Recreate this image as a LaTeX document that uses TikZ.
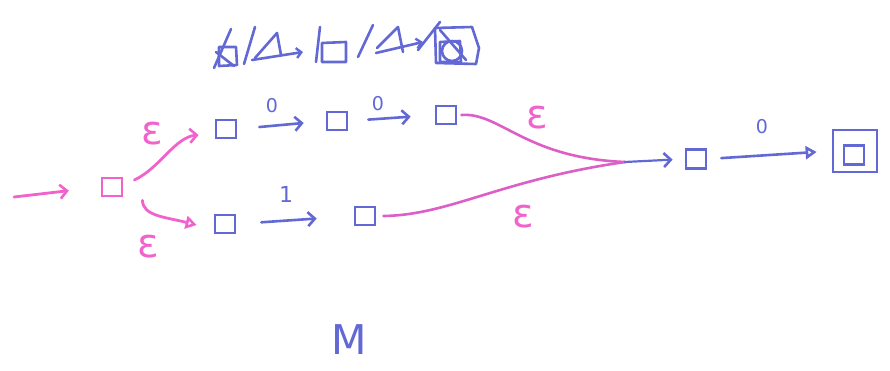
\documentclass[tikz,border=0pt]{standalone}
\usepackage{fontspec}
\newfontfamily\penfont{DejaVu Sans}
\usetikzlibrary{arrows.meta}
\definecolor{penblue}{RGB}{98,104,212}
\definecolor{penpink}{RGB}{242,98,204}
\definecolor{penmag}{RGB}{220,94,198}
\begin{document}
\begin{tikzpicture}[x=1pt,y=-1pt,
  st/.style={draw=penblue,line width=2.8pt,minimum width=20pt,minimum height=18pt,inner sep=0pt},
  pst/.style={st,draw=penpink},
  bl/.style={draw=penblue,line width=2.6pt,line cap=round,line join=round},
  pk/.style={draw=penpink,line width=2.8pt,line cap=round,line join=round},
  pm/.style={draw=penmag,line width=2.6pt,line cap=round,line join=round},
  barb/.style={-{Straight Barb[length=7pt,width=14pt,line width=2.6pt]}},
  tri/.style={-{Triangle[open,length=11pt,width=13pt,line width=2.6pt]}},
  eps/.style={text=penpink,font=\penfont\fontsize{40}{40}\selectfont,inner sep=0pt},
  dig/.style={text=penblue,font=\penfont\fontsize{19}{19}\selectfont,inner sep=0pt},
  scr/.style={draw=penblue,line width=2.6pt,line cap=round,line join=round}]
\useasboundingbox (0,0) rectangle (890,371);
% states
\node[pst] (q0) at (112,187) {};
\node[st] (q1) at (226,129) {};
\node[st] (q2) at (337,121) {};
\node[st] (q3) at (446,115) {};
\node[st] (q4) at (225,224) {};
\node[st] (q5) at (365,216) {};
\node[st,minimum height=19pt] (q6) at (696,159) {};
\node[st,minimum width=44pt,minimum height=42pt] (q7) at (855,151) {};
\node[st,minimum width=20pt,minimum height=19pt] (q7i) at (854,155) {};
\coordinate (s) at (14,197);
\coordinate (j) at (625,162);
% connectors
\draw[pk,barb,shorten >=32pt] (s) -- (q0.west);
\draw[pk,barb] ([shift={(11,-7)}]q0.east) .. controls (160,168) and (175,137) .. ([shift={(-16,6)}]q1.west);
\draw[pk,tri] ([shift={(19,3)}]q0.south east) .. controls (143,216) and (165,217) .. ([shift={(-17,1)}]q4.west);
\draw[bl,barb,shorten <=22pt,shorten >=22pt] (q1.east) -- (q2.west);
\draw[bl,barb,shorten <=20pt,shorten >=24pt] (q2.east) -- (q3.west);
\draw[bl,barb,shorten <=25pt,shorten >=37pt] (q4.east) -- (q5.west);
\draw[pm] ([xshift=4pt]q3.east) .. controls (500,112) and (525,158) .. (j);
\draw[pm] ([xshift=7pt]q5.east) .. controls (450,215) and (500,180) .. (j);
\draw[bl,barb,line width=2.2pt,shorten >=12pt] (j) -- (q6.west);
\draw[bl,tri,shorten <=14pt,shorten >=15pt] (q6.east) -- (q7.west);
% labels
\node[eps] (e1) at (152,134) {ε};
\node[eps] (e2) at (148,247) {ε};
\node[eps] (e3) at (537,118) {ε};
\node[eps] (e4) at (523,217) {ε};
\node[dig] (d1) at (272,106) {0};
\node[dig] (d2) at (378,104) {0};
\node[dig,font=\penfont\fontsize{22}{22}\selectfont] (d3) at (286,194) {1};
\node[dig] (d4) at (762,127) {0};
\node[text=penblue,font=\penfont\fontsize{41}{41}\selectfont,inner sep=0pt] (m) at (349,340) {M};
% scribble
\draw[scr] (214,68) -- (231,29);
\draw[scr] (219,47) -- (236,47) -- (237,65) -- (219,66) -- cycle;
\draw[scr] (216,52) -- (234,66);
\draw[scr] (255,27) -- (244,64);
\draw[scr] (255,58) -- (277,33) -- (281,55);
\draw[scr,-{Straight Barb[length=5pt,width=10pt,line width=2.4pt]}] (252,60) -- (303,52);
\draw[scr] (320,27) -- (316,62);
\draw[scr] (322,43) -- (346,42) -- (346,62) -- (322,62) -- cycle;
\draw[scr] (373,25) -- (358,57);
\draw[scr] (377,48) -- (398,27) -- (403,52);
\draw[scr,-{Straight Barb[length=5pt,width=10pt,line width=2.4pt]}] (376,53) -- (423,42);
\draw[scr] (418,50) -- (440,22);
\draw[scr] (435,28) -- (472,27) -- (479,48) -- (476,64) -- (436,63) -- cycle;
\draw[scr] (440,42) -- (460,41) -- (461,62) -- (440,62) -- cycle;
\draw[scr] (452,51) circle (10);
\draw[scr] (440,30) -- (466,60);
\end{tikzpicture}
\end{document}
